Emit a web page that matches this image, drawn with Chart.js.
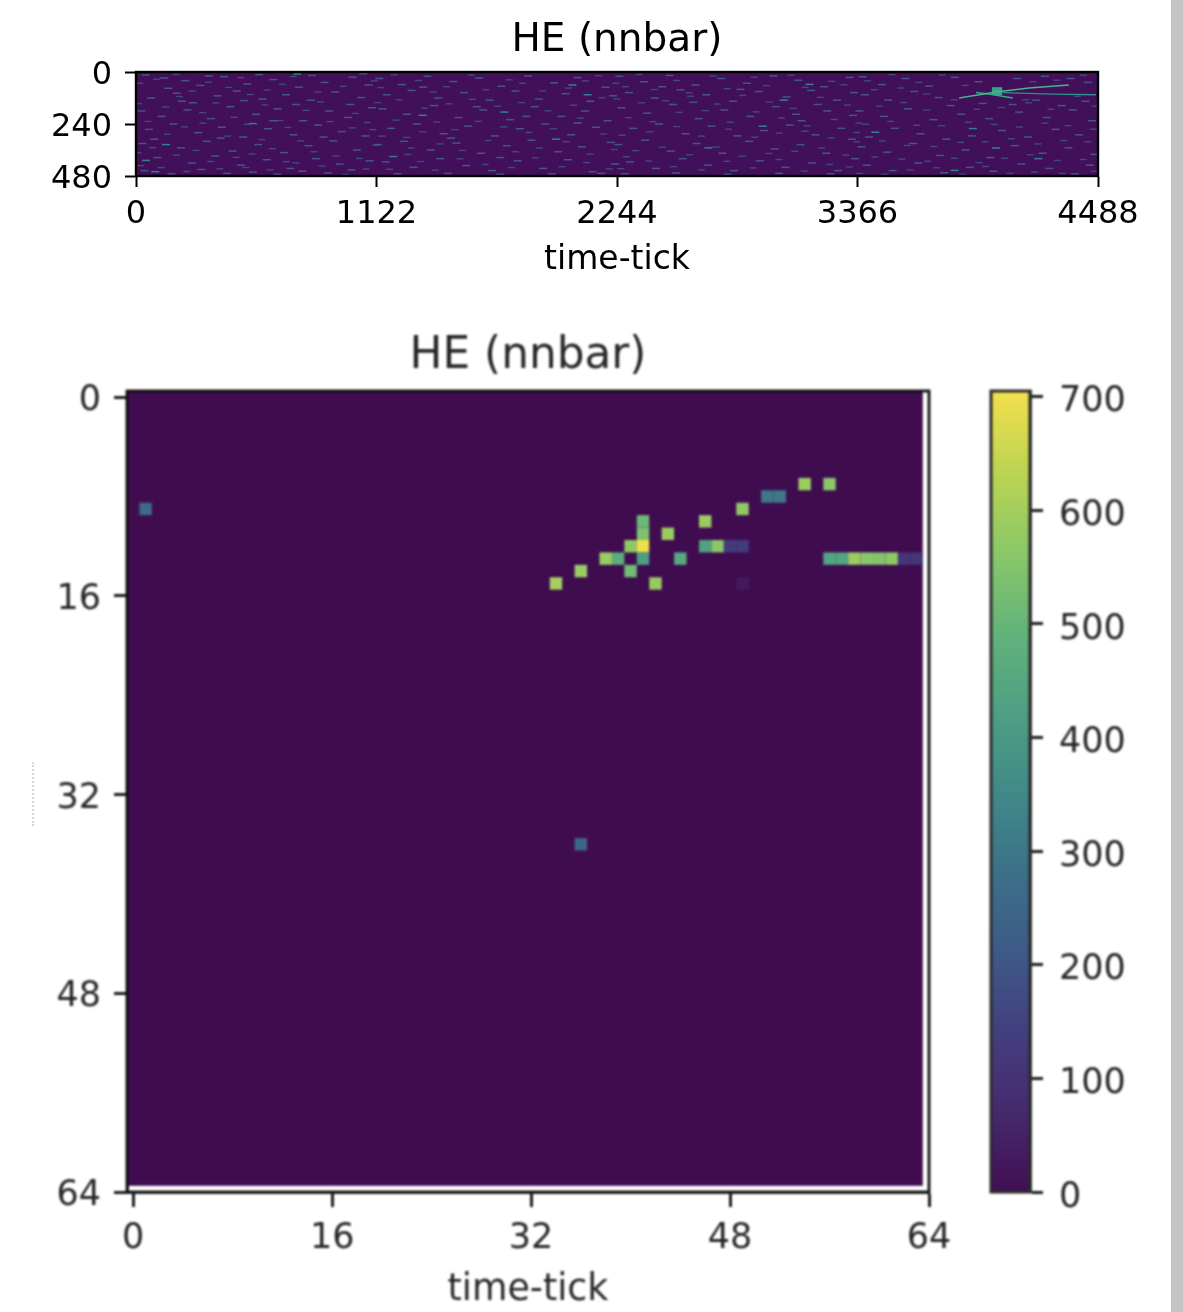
<!DOCTYPE html>
<html>
<head>
<meta charset="utf-8">
<script src="https://cdn.jsdelivr.net/npm/chart.js@4/dist/chart.umd.js"></script>
<style>
  html, body { margin: 0; background: #fff; overflow: hidden; }
  #page { position: relative; width: 1183px; height: 1312px; }
  canvas { position: absolute; top: 0; }
  #cTop { left: 0; filter: blur(0.45px); }
  #cMain { left: 0; filter: blur(0.9px); }
  #cBar { left: 960px; filter: blur(0.9px); }
  #strip { position: absolute; left: 1171px; top: 0; width: 12px; height: 1312px; background: #c3c4c3; }
  #crumb { position: absolute; left: 32px; top: 762px; height: 64px; border-left: 2px dotted #d4d4d4; }
</style>
</head>
<body>
<div id="page">
  <canvas id="cTop" width="1171" height="300"></canvas>
  <canvas id="cMain" width="980" height="1312"></canvas>
  <canvas id="cBar" width="211" height="1312"></canvas>
  <div id="strip"></div>
  <div id="crumb"></div>
</div>
<script>
const titleText = 'HE (nnbar)';
const xAxisText = 'time-tick';

const topXTicks = [0, 1122, 2244, 3366, 4488];
const topYTicks = [0, 240, 480];
const mainTicks = [0, 16, 32, 48, 64];
const barTicks = [0, 100, 200, 300, 400, 500, 600, 700];

// zoomed crop: [col, row, adc]
const cropCells = [
  [1, 9, 260], [36, 36, 250],
  [34, 15, 600], [36, 14, 585], [38, 13, 585], [39, 13, 470], [40, 14, 520],
  [40, 12, 570], [41, 12, 700], [41, 13, 420], [41, 11, 540], [41, 10, 510],
  [42, 15, 580], [43, 11, 585], [44, 13, 450], [46, 10, 585], [46, 12, 430],
  [47, 12, 560], [48, 12, 130], [49, 12, 130], [49, 9, 570], [49, 15, 25],
  [51, 8, 300], [52, 8, 300], [54, 7, 585], [56, 7, 560],
  [56, 13, 440], [57, 13, 440], [58, 13, 590], [59, 13, 560], [60, 13, 550],
  [61, 13, 570], [62, 13, 110], [63, 13, 110]
];

// full event: tracks in time-tick / wire
const trackA = [[3840, 120], [4012, 92], [4166, 74], [4352, 60]];
const trackB = [[3919, 95], [3979, 102], [4091, 120]];
const trackC = [[4045, 95], [4278, 102], [4478, 105]];
const blobHits = [[4008, 85], [4026, 85], [4008, 92], [4026, 92]];

const noiseBright = [
  [3142, 57], [2924, 250], [2107, 105], [1338, 200], [1719, 185], [140, 335], [47, 408],
  [3449, 278], [3819, 454], [4013, 351], [3904, 261], [545, 238], [752, 10], [3022, 130],
  [1960, 310], [2670, 350], [4210, 400], [2036, 60], [1200, 390], [90, 460]
];
const noiseFaint = [
  [45, 14], [230, 40], [150, 75], [300, 62], [410, 22], [520, 55], [640, 35], [760, 70], [880, 48], [1010, 24], [1085, 60],
  [70, 120], [190, 98], [265, 142], [380, 110], [470, 88], [590, 125], [700, 105], [815, 130], [930, 92], [1050, 118],
  [25, 180], [120, 205], [240, 175], [350, 215], [440, 160], [560, 195], [660, 170], [780, 225], [900, 180], [990, 210], [1100, 165],
  [60, 265], [175, 240], [290, 280], [400, 255], [500, 300], [615, 262], [735, 290], [850, 245], [960, 275], [1070, 295],
  [30, 330], [210, 350], [330, 320], [450, 365], [570, 335], [690, 372], [805, 340], [920, 318], [1030, 360],
  [100, 395], [260, 420], [370, 388], [490, 430], [610, 405], [720, 445], [840, 400], [950, 425], [1090, 410],
  [40, 455], [165, 470], [305, 450], [425, 468], [545, 462], [660, 472], [775, 458], [895, 466], [1005, 452],
  [130, 28], [340, 18], [575, 12], [820, 16], [1060, 8], [215, 135], [505, 132], [745, 150], [1000, 150], [85, 310], [395, 305], [640, 225], [875, 300],
  [1135, 30], [1240, 58], [1360, 20], [1480, 44], [1600, 28], [1705, 66], [1830, 18], [1950, 50], [2060, 26], [2190, 70],
  [1170, 105], [1285, 85], [1410, 120], [1530, 95], [1650, 130], [1770, 88], [1880, 125], [2005, 100], [2120, 135], [2225, 110],
  [1150, 170], [1265, 195], [1390, 155], [1505, 210], [1620, 175], [1745, 220], [1860, 160], [1985, 205], [2095, 180], [2200, 225],
  [1190, 260], [1310, 240], [1435, 285], [1550, 250], [1675, 295], [1790, 262], [1910, 240], [2030, 290], [2145, 255],
  [1130, 335], [1250, 320], [1375, 360], [1495, 328], [1610, 375], [1730, 340], [1845, 315], [1970, 368], [2080, 345], [2215, 325],
  [1165, 415], [1295, 440], [1420, 400], [1540, 432], [1660, 455], [1780, 410], [1900, 445], [2015, 405], [2130, 460], [2235, 425],
  [1220, 470], [1455, 468], [1700, 472], [1940, 470], [2170, 468], [1340, 70], [1590, 160], [1820, 205], [2060, 235], [1470, 305], [1700, 395],
  [2255, 20], [2370, 45], [2490, 16], [2610, 60], [2730, 30], [2850, 52], [2975, 18], [3090, 38], [3210, 68], [3330, 25],
  [2300, 95], [2420, 120], [2540, 82], [2660, 105], [2785, 135], [2905, 90], [3035, 115], [3150, 85], [3270, 130], [3350, 95],
  [2265, 165], [2385, 190], [2505, 150], [2625, 215], [2745, 175], [2865, 205], [2985, 160], [3105, 225], [3225, 180], [3345, 200],
  [2320, 260], [2440, 240], [2565, 285], [2685, 250], [2805, 295], [2930, 270], [3050, 245], [3170, 290], [3290, 260],
  [2250, 335], [2375, 315], [2495, 365], [2615, 330], [2735, 375], [2860, 320], [2980, 355], [3100, 335], [3220, 375], [3340, 310],
  [2305, 415], [2425, 445], [2550, 400], [2670, 430], [2790, 455], [2910, 410], [3030, 440], [3155, 420], [3275, 455], [3355, 400],
  [2280, 470], [2520, 466], [2760, 472], [3000, 468], [3240, 470], [2455, 68], [2820, 80], [3180, 150], [2600, 140], [3080, 195],
  [3390, 22], [3480, 58], [3590, 30], [3700, 65], [3820, 25], [3930, 45], [4110, 30], [4240, 20], [4360, 30], [4440, 48],
  [3400, 105], [3510, 130], [3630, 90], [3745, 118], [3800, 155], [3950, 145], [4090, 150], [4200, 130], [4320, 155], [4430, 135],
  [3375, 180], [3490, 205], [3600, 170], [3720, 220], [3850, 195], [3980, 215], [4120, 185], [4250, 210], [4370, 175], [4460, 225],
  [3420, 300], [3540, 260], [3660, 285], [3780, 310], [3900, 295], [4040, 270], [4160, 300], [4290, 265], [4400, 290],
  [3385, 345], [3505, 370], [3625, 330], [3750, 385], [3870, 360], [3985, 395], [4100, 340], [4230, 375], [4350, 350], [4470, 380],
  [3410, 430], [3530, 455], [3650, 420], [3770, 465], [3890, 440], [4000, 458], [4130, 425], [4260, 445], [4380, 470], [4450, 430]
];
const noiseExtra = [
  [18, 52], [96, 33], [187, 12], [262, 88], [338, 47], [433, 71], [488, 26], [611, 83], [683, 57], [734, 21], [849, 92], [967, 66], [1112, 41],
  [12, 146], [139, 161], [203, 113], [311, 188], [372, 143], [458, 209], [533, 104], [602, 152], [671, 224], [793, 177], [861, 138], [1023, 191], [1079, 233],
  [56, 228], [147, 287], [226, 253], [312, 236], [427, 296], [519, 241], [587, 312], [708, 256], [768, 318], [906, 229], [1009, 258], [1105, 266],
  [9, 372], [78, 349], [188, 384], [281, 362], [349, 413], [468, 394], [541, 378], [636, 354], [701, 414], [829, 368], [933, 387], [1042, 399], [1118, 338],
  [22, 432], [118, 441], [237, 459], [391, 447], [512, 441], [626, 452], [746, 419], [868, 434], [977, 473], [1073, 448],
  [1142, 72], [1206, 13], [1318, 39], [1387, 92], [1449, 68], [1563, 14], [1632, 82], [1741, 36], [1803, 52], [1897, 87], [2018, 74], [2096, 41], [2158, 17], [2238, 52],
  [1128, 141], [1227, 128], [1346, 167], [1461, 147], [1569, 126], [1688, 158], [1799, 141], [1923, 179], [2042, 153], [2174, 119],
  [1213, 222], [1338, 276], [1402, 231], [1487, 266], [1597, 228], [1716, 253], [1833, 279], [1948, 262], [2073, 213], [2182, 286], [1262, 302],
  [1147, 296], [1283, 351], [1418, 332], [1522, 362], [1643, 316], [1771, 368], [1881, 351], [2007, 322], [2118, 379], [2231, 358],
  [1183, 449], [1328, 413], [1396, 453], [1511, 401], [1629, 427], [1751, 441], [1864, 396], [1987, 437], [2102, 418], [2207, 447], [1268, 381],
  [2283, 68], [2347, 12], [2418, 81], [2523, 39], [2579, 96], [2691, 18], [2758, 77], [2883, 24], [2941, 63], [3055, 15], [3122, 71], [3246, 43], [3303, 59],
  [2243, 124], [2359, 142], [2471, 133], [2587, 112], [2712, 148], [2831, 108], [2956, 139], [3066, 168], [3193, 117], [3318, 153],
  [2297, 211], [2412, 229], [2534, 186], [2656, 178], [2773, 232], [2894, 184], [3011, 212], [3132, 248], [3258, 219], [3372, 236],
  [2268, 292], [2397, 276], [2523, 252], [2639, 296], [2764, 264], [2887, 301], [3002, 282], [3121, 273], [3243, 304], [3361, 279],
  [2331, 363], [2456, 347], [2582, 382], [2706, 346], [2828, 389], [2953, 376], [3074, 366], [3198, 351], [3312, 383], [2288, 391],
  [2262, 446], [2392, 411], [2508, 437], [2637, 452], [2757, 412], [2878, 443], [2999, 404], [3118, 457], [3236, 427], [3328, 438],
  [3413, 41], [3528, 12], [3652, 48], [3761, 14], [3868, 62], [4185, 45], [4296, 38], [4420, 15], [3445, 82], [3568, 74], [3688, 102], [4150, 128],
  [3468, 158], [3582, 141], [3688, 176], [3817, 128], [3922, 172], [4037, 164], [4164, 142], [4268, 172], [4392, 112], [4475, 158],
  [3403, 241], [3521, 228], [3642, 246], [3758, 248], [3883, 232], [4003, 242], [4122, 254], [4241, 236], [4348, 248], [4468, 264],
  [3362, 322], [3481, 318], [3598, 339], [3723, 344], [3847, 325], [3961, 322], [4084, 308], [4208, 332], [4329, 316], [4441, 322],
  [3447, 392], [3573, 402], [3692, 412], [3818, 398], [3933, 418], [4053, 398], [4172, 382], [4298, 408], [4418, 404], [3376, 468],
  [3493, 472], [3612, 452], [3735, 442], [3857, 472], [3962, 436], [4078, 468], [4192, 462], [4322, 468], [4472, 458]
];

const viridis = ['#420f54', '#462a6e', '#433f7f', '#3e5a88', '#3c7188', '#418a88', '#4ea083', '#63b47a', '#8bc868', '#bcd452', '#f4e04d'];
const barMax = 705;

function hexToRgb(h) {
  return [1, 3, 5].map(i => parseInt(h.slice(i, i + 2), 16));
}
function adcColor(v) {
  const p = Math.min(v / barMax, 1) * (viridis.length - 1);
  const i = Math.min(Math.floor(p), viridis.length - 2);
  const a = hexToRgb(viridis[i]), b = hexToRgb(viridis[i + 1]);
  const c = a.map((n, k) => Math.round(n + (b[k] - n) * (p - i)));
  return `rgb(${c[0]},${c[1]},${c[2]})`;
}
const toPoints = list => list.map(p => ({ x: p[0], y: p[1] }));

// closes the box around the plot, matplotlib style
const spines = {
  id: 'spines',
  afterDraw(chart, args, opts) {
    const a = chart.chartArea, g = chart.ctx;
    g.save();
    g.strokeStyle = opts.color;
    g.lineWidth = opts.width;
    g.strokeRect(a.left, a.top, a.width, a.height);
    g.restore();
  }
};
// imshow background, only over the extent that holds pixels
const imageBack = {
  id: 'imageBack',
  beforeDatasetsDraw(chart, args, opts) {
    if (!opts.color) return;
    const { x, y } = chart.scales, g = chart.ctx;
    const l = x.getPixelForValue(opts.xMin), r = x.getPixelForValue(opts.xMax);
    const t = y.getPixelForValue(opts.yMin), b = y.getPixelForValue(opts.yMax);
    g.save();
    g.fillStyle = opts.color;
    g.fillRect(l, t, r - l, b - t);
    g.restore();
  }
};
Chart.register(spines, imageBack);
Chart.defaults.font.family = '"DejaVu Sans"';
Chart.defaults.animation = false;
Chart.defaults.events = [];
Chart.defaults.responsive = false;
Chart.defaults.plugins.legend.display = false;
Chart.defaults.plugins.tooltip.enabled = false;

function axis(ticks, min, max, opts) {
  const edge = opts.edge || opts.ink;
  return {
    type: 'linear', min, max, reverse: !!opts.reverse,
    border: { color: edge, width: opts.line },
    grid: { drawOnChartArea: false, drawTicks: true, tickLength: opts.tick, tickColor: edge, tickWidth: opts.line },
    ticks: { color: opts.ink, font: { size: opts.size }, padding: opts.pad, labelOffset: opts.shift || 0, maxRotation: 0, autoSkip: false, callback: v => String(v) },
    afterBuildTicks: s => { s.ticks = ticks.map(v => ({ value: v })); },
    afterFit: s => { if (opts.w) s.width = opts.w; if (opts.h) s.height = opts.h; },
    title: opts.title ? { display: true, text: opts.title, color: opts.ink, font: { size: opts.titleSize }, padding: { top: 0, bottom: opts.titlePad } } : { display: false }
  };
}

new Chart(document.getElementById('cTop'), {
  type: 'scatter',
  data: {
    datasets: [
      { data: toPoints(noiseExtra), pointStyle: 'line', pointRadius: 3.5, pointBorderWidth: 1.4, pointBorderColor: 'rgba(66,105,150,0.65)' },
      { data: toPoints(noiseFaint), pointStyle: 'line', pointRadius: 4, pointBorderWidth: 1.5, pointBorderColor: 'rgba(72,115,155,0.7)' },
      { data: toPoints(noiseBright), pointStyle: 'line', pointRadius: 4, pointBorderWidth: 1.5, pointBorderColor: 'rgba(45,150,150,0.85)' },
      { data: toPoints(trackA), showLine: true, borderColor: '#45b58c', borderWidth: 1.5, pointRadius: 0 },
      { data: toPoints(trackB), showLine: true, borderColor: '#3aa88a', borderWidth: 1.5, pointRadius: 0 },
      { data: toPoints(trackC), showLine: true, borderColor: '#2f8f8c', borderWidth: 1.3, pointRadius: 0 },
      { data: toPoints(blobHits), pointStyle: 'rect', pointRadius: 4.5, pointBackgroundColor: '#35a585', pointBorderWidth: 0 }
    ]
  },
  options: {
    layout: { padding: { right: 73 } },
    scales: {
      x: axis(topXTicks, 0, 4488, { ink: '#000', line: 2, tick: 11, size: 32, pad: 8, h: 124, title: xAxisText, titleSize: 33, titlePad: 19.4 }),
      y: axis(topYTicks, 0, 480, { ink: '#000', line: 2, tick: 11, size: 32, pad: 13, shift: 4, w: 136, reverse: true })
    },
    plugins: {
      title: { display: true, text: titleText, color: '#000', fullSize: false, font: { size: 39, weight: 'normal' }, padding: { top: 17.6, bottom: 7.6 } },
      spines: { color: '#000', width: 2.4 },
      imageBack: { color: '#411058', xMin: 0, xMax: 4488, yMin: 0, yMax: 480 }
    }
  }
});

new Chart(document.getElementById('cMain'), {
  type: 'scatter',
  data: {
    datasets: [{
      data: cropCells.map(c => ({ x: c[0], y: c[1], v: c[2] })),
      pointStyle: 'rect',
      pointBorderWidth: 0,
      pointRadius: c => c.chart.chartArea ? c.chart.scales.x.getPixelForValue(1) * Math.SQRT1_2 - c.chart.scales.x.getPixelForValue(0) * Math.SQRT1_2 : 0,
      pointBackgroundColor: c => adcColor(c.raw.v)
    }]
  },
  options: {
    layout: { padding: { right: 51 } },
    scales: {
      x: axis(mainTicks, -0.5, 64, { ink: '#262626', edge: '#0c0c0c', line: 2.8, tick: 15, size: 35, pad: 11, h: 120, title: xAxisText, titleSize: 36.4, titlePad: -0.8 }),
      y: axis(mainTicks, -0.5, 64, { ink: '#262626', edge: '#0c0c0c', line: 2.8, tick: 13, size: 35, pad: 13, shift: 4, w: 127, reverse: true })
    },
    plugins: {
      title: { display: true, text: titleText, color: '#262626', fullSize: false, font: { size: 43.8, weight: 'normal' }, padding: { top: 330.7, bottom: 7.7 } },
      spines: { color: '#0c0c0c', width: 2.8 },
      imageBack: { color: '#400c50', xMin: -0.5, xMax: 63.5, yMin: -0.5, yMax: 63.5 }
    }
  }
});

new Chart(document.getElementById('cBar'), {
  type: 'bar',
  data: {
    labels: ['adc'],
    datasets: [{
      data: [[0, barMax]],
      barPercentage: 1,
      categoryPercentage: 1,
      backgroundColor: c => {
        const a = c.chart.chartArea;
        if (!a) return viridis[0];
        const grad = c.chart.ctx.createLinearGradient(0, a.bottom, 0, a.top);
        viridis.forEach((col, i) => grad.addColorStop(i / (viridis.length - 1), col));
        return grad;
      }
    }]
  },
  options: {
    layout: { padding: { left: 31, top: 391, bottom: 120 } },
    scales: {
      x: { display: false },
      y: Object.assign(axis(barTicks, 0, barMax, { ink: '#262626', edge: '#0c0c0c', line: 2.8, tick: 13, size: 35, pad: 16, shift: 5.5, w: 141 }), { position: 'right' })
    },
    plugins: {
      spines: { color: '#2a2a2a', width: 3 },
      imageBack: { color: null }
    }
  }
});
</script>
</body>
</html>
